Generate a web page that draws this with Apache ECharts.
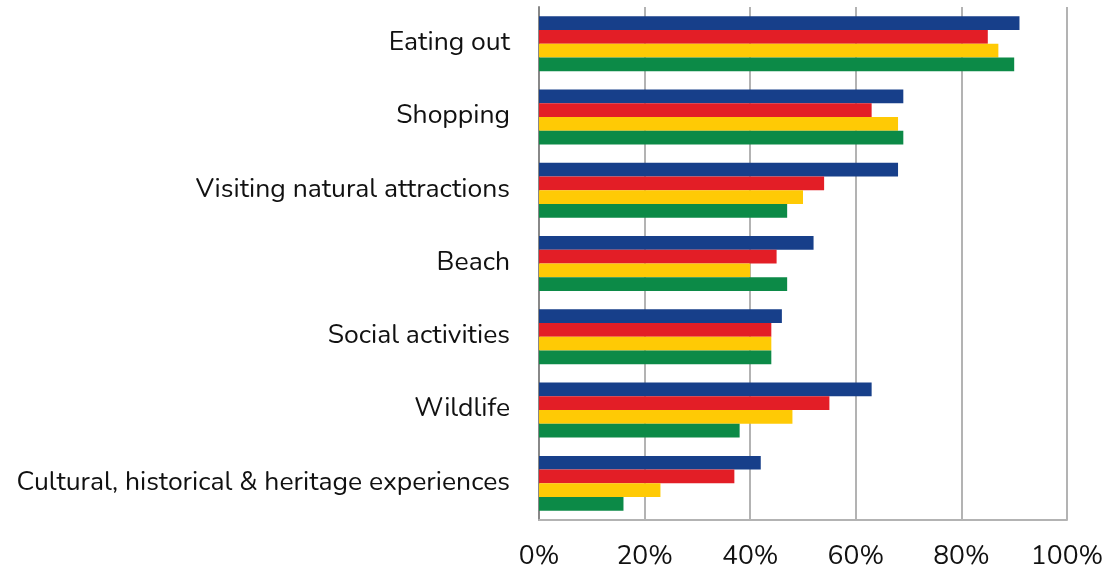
<!DOCTYPE html>
<html><head><meta charset="utf-8">
<script src="https://cdn.jsdelivr.net/npm/echarts@6/dist/echarts.min.js"></script>
<style>html,body{margin:0;padding:0;background:#fff}#c{width:1106px;height:566px}</style>
</head><body><div id="c"></div>
<script>
const categories = ["Eating out","Shopping","Visiting natural attractions","Beach","Social activities","Wildlife","Cultural, historical & heritage experiences"];
const seriesBlue = [91,69,68,52,46,63,42];
const seriesRed = [85,63,54,45,44,55,37];
const seriesYellow = [87,68,50,40,44,48,23];
const seriesGreen = [90,69,47,47,44,38,16];
const xTicks = [0,20,40,60,80,100];

const colors = ["#173f8a","#e31e26","#ffca05","#0c8a47"];
const data = [seriesBlue, seriesRed, seriesYellow, seriesGreen];
const font = 'Nunito, "Noto Sans", Lato, sans-serif';
const chart = echarts.init(document.getElementById('c'));
chart.setOption({
  animation:false,
  grid:{left:539,right:39,top:7,bottom:46,containLabel:false,outerBoundsMode:'none'},
  xAxis:{type:'value',min:0,max:100,interval:20,
    axisLine:{show:true,lineStyle:{color:'#b3b3b3',width:2}},
    axisTick:{show:false},
    splitLine:{show:true,lineStyle:{color:'#b3b3b3',width:2}},
    axisLabel:{formatter:v=>xTicks.includes(v)?v+'%':'',color:'#111',fontSize:26.5,fontFamily:font,margin:24}
  },
  yAxis:{type:'category',data:categories,inverse:true,
    axisLine:{show:true,lineStyle:{color:'#888',width:2}},
    axisTick:{show:false},
    axisLabel:{color:'#111',fontSize:26.5,fontFamily:font,margin:29}
  },
  series:data.map((d,i)=>({type:'bar',data:d,barGap:'0%',barCategoryGap:'25%',
    itemStyle:{color:colors[i]}}))
});
</script></body></html>
